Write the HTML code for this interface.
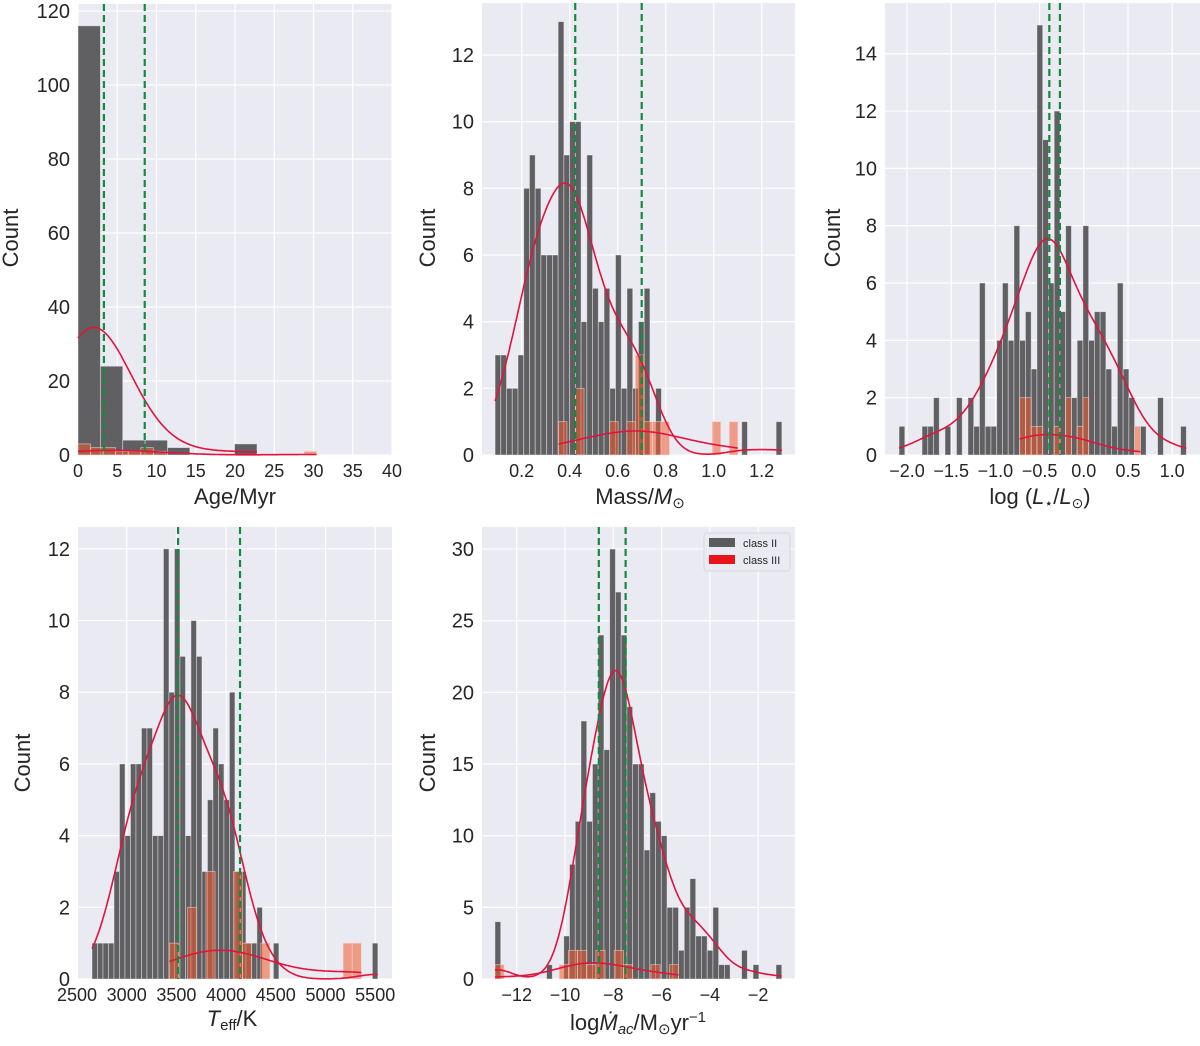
<!DOCTYPE html>
<html><head><meta charset="utf-8"><style>
body{margin:0;background:#fff}
svg text{font-family:"Liberation Sans",Arial,sans-serif;fill:#262626}
</style></head><body>
<svg id="fig" width="1200" height="1041" viewBox="0 0 1200 1041" xmlns="http://www.w3.org/2000/svg"></svg>
<script>
// ---- data (counts per bin) ----
const ageII=[116,24,4,4,2,0,0,3,0,0,0,0,0,0];
const ageIII=[3,2,2,1,1,2,1,0,0,0,0,0,0,0,0,0,0,0,1];
const massII=[3,3,2,2,3,8,9,8,6,6,6,13,9,10,10,4,9,5,4,5,2,6,2,5,2,4,5,0,2,0,0,0,0,0,0,0,0,0,0,0,0,0,0,1,0,0,0,0,0,1];
const massIII=[1,0,2,0,0,0,1,0,1,3,1,1,1,0,0,0,0,0,1,0,1];
const lumII=[1,0,0,0,1,1,2,0,1,0,2,0,2,1,6,1,1,4,6,4,8,4,5,3,15,11,6,12,5,8,2,4,8,4,5,5,3,1,6,3,2,0,1,0,0,2,0,0,0,1];
const lumIII=[2,2,1,1,0,0,1,0,2,0,1,2,0,0,0,0,0,0,0,0,1];
const teffII=[1,1,1,1,3,6,4,6,6,7,7,4,4,12,8,12,9,4,10,9,3,5,7,6,5,8,3,3,1,1,2,0,0,1,0,0,0,0,0,0,0,0,0,0,0,0,0,0,0,0,0,1];
const teffIII=[1,0,2,0,3,0,0,3,1,0,1,0,0,0,0,0,0,0,0,1,1];
const mdotII=[4,0,0,0,0,0,0,0,0,1,0,0,3,8,11,18,11,15,24,16,30,27,24,19,15,15,9,13,11,10,5,5,2,5,7,3,3,2,5,1,1,0,0,2,0,1,0,0,0,1];
const mdotIII=[1,0,0,0,0,0,0,1,2,2,1,2,0,2,1,0,0,1,0,1];
const ageMarkers=[3.3,8.5];
const massMarkers=[0.423,0.70];
const lumMarkers=[-0.39,-0.27];
const teffMarkers=[3517,4140];
const mdotMarkers=[-8.6,-7.49];
const ageTicks=[0,5,10,15,20,25,30,35,40];
const massTicks=[0.2,0.4,0.6,0.8,1.0,1.2];
const lumTicks=[-2.0,-1.5,-1.0,-0.5,0.0,0.5,1.0];
const teffTicks=[2500,3000,3500,4000,4500,5000,5500];
const mdotTicks=[-12,-10,-8,-6,-4,-2];
const ageYTicks=[0,20,40,60,80,100,120];
const massYTicks=[0,2,4,6,8,10,12];
const lumYTicks=[0,2,4,6,8,10,12,14];
const teffYTicks=[0,2,4,6,8,10,12];
const mdotYTicks=[0,5,10,15,20,25,30];

const NS="http://www.w3.org/2000/svg";
const svg=document.getElementById('fig');
function mk(tag,attrs,parent){const e=document.createElementNS(NS,tag);for(const k in attrs)e.setAttribute(k,attrs[k]);(parent||svg).appendChild(e);return e;}

const panels=[
 {id:'age',L:78,R:392,T:4,B:455,x0:0,x1:40,ymax:121.9,II:ageII,IIs:0,IIw:2.85,III:ageIII,IIIs:0,IIIw:1.6,bwII:4.6,bwIII:5,m:ageMarkers,xt:ageTicks,yt:ageYTicks,fmt:v=>String(v),ylx:10,yly:230},
 {id:'mass',L:482,R:795,T:3,B:455,x0:0.2-39.7/240,x1:0.2-39.7/240+313/240,ymax:13.56,II:massII,IIs:0.089,IIw:0.0239,III:massIII,IIIs:0.353,IIIw:0.0356,bwII:0.075,bwIII:0.17,m:massMarkers,xt:massTicks,yt:massYTicks,fmt:v=>v.toFixed(1),ylx:427,yly:230},
 {id:'lum',L:885,R:1200,T:3,B:455,x0:-2-22/88.4,x1:-2+293/88.4,ymax:15.77,II:lumII,IIs:-2.09,IIw:0.065,III:lumIII,IIIs:-2.09+21*0.065,IIIw:0.065,bwII:0.22,bwIII:0.3,m:lumMarkers,xt:lumTicks,yt:lumYTicks,fmt:v=>(v<0?'\u2212':'')+Math.abs(v).toFixed(1),ylx:832,yly:230},
 {id:'teff',L:78,R:392,T:527,B:979,x0:3000-48.7/0.0994,x1:3000+265.3/0.0994,ymax:12.61,II:teffII,IIs:2651,IIw:55.3,III:teffIII,IIIs:3429,IIIw:92,bwII:175,bwIII:420,m:teffMarkers,xt:teffTicks,yt:teffYTicks,fmt:v=>String(v),ylx:22,yly:755},
 {id:'mdot',L:482,R:795,T:527,B:979,x0:-12-34.7/24.15,x1:-12+278.3/24.15,ymax:31.54,II:mdotII,IIs:-12.9,IIw:0.2375,III:mdotIII,IIIs:-12.9,IIIw:0.38,bwII:0.6,bwIII:1.2,m:mdotMarkers,xt:mdotTicks,yt:mdotYTicks,fmt:v=>'\u2212'+Math.abs(v),ylx:427,yly:755}
];

function kde(counts,start,w,bw,xs){
  return xs.map(x=>{let s=0;counts.forEach((c,i)=>{if(c){const z=(x-(start+(i+0.5)*w))/bw;s+=c*Math.exp(-0.5*z*z);}});return s/(bw*Math.sqrt(2*Math.PI))*w;});
}

panels.forEach(p=>{
  const g=mk('g',{});
  
  
  const sx=v=>p.L+(v-p.x0)/(p.x1-p.x0)*(p.R-p.L);
  const sy=v=>p.B-v/p.ymax*(p.B-p.T);
  const bg=mk('rect',{x:p.L,y:p.T,width:p.R-p.L,height:p.B-p.T,fill:'#eaeaf2'},g);
  
  
  p.yt.forEach(t=>{
    const l=mk('line',{x1:p.L,x2:p.R,y1:sy(t),y2:sy(t),stroke:'#fff','stroke-width':1.2},g);
    
    
    const tx=mk('text',{x:p.L-8,y:sy(t)+7,'text-anchor':'end','font-size':20},g);
    tx.textContent=String(t);
    
    
  });
  p.xt.forEach(t=>{
    const l=mk('line',{x1:sx(t),x2:sx(t),y1:p.T,y2:p.B,stroke:'#fff','stroke-width':1.2},g);
    
    
    const tx=mk('text',{x:sx(t),y:p.B+22,'text-anchor':'middle','font-size':18},g);
    tx.textContent=p.fmt(t);
    
    
  });
  p.II.forEach((c,i)=>{ if(!c) return;
    const x=sx(p.IIs+i*p.IIw), x2=sx(p.IIs+(i+1)*p.IIw);
    const r=mk('rect',{x:x,y:sy(c),width:x2-x,height:sy(0)-sy(c),fill:'#5b5a5d','fill-opacity':0.97,stroke:'#f4f4f8','stroke-opacity':0.55,'stroke-width':0.8},g);
    
    
  });
  p.III.forEach((c,i)=>{ if(!c) return;
    const x=sx(p.IIIs+i*p.IIIw), x2=sx(p.IIIs+(i+1)*p.IIIw);
    const r=mk('rect',{x:x,y:sy(c),width:x2-x,height:sy(0)-sy(c),fill:'#f05a32','fill-opacity':0.55,stroke:'#fbe0d8','stroke-opacity':0.6,'stroke-width':0.8},g);
    
    
  });
  [[p.II,p.IIs,p.IIw,p.bwII,'ii'],[p.III,p.IIIs,p.IIIw,p.bwIII,'iii']].forEach(([arr,s,w,bw,nm])=>{
    let a=-1,b=-1;arr.forEach((c,i)=>{if(c){if(a<0)a=i;b=i;}});
    const lo=s+a*w, hi=s+(b+1)*w; const xs=[];
    for(let k=0;k<=200;k++)xs.push(lo+(hi-lo)*k/200);
    const ys=kde(arr,s,w,bw,xs);
    const d=xs.map((x,k)=>(k?'L':'M')+sx(x).toFixed(1)+','+sy(ys[k]).toFixed(1)).join('');
    const pa=mk('path',{d:d,fill:'none',stroke:'#e0143c','stroke-width':1.6},g);
    
    
  });
  p.m.forEach(v=>{
    const l=mk('line',{x1:sx(v),x2:sx(v),y1:p.T,y2:p.B,stroke:'#138a3c','stroke-width':2.2,'stroke-dasharray':'7,4'},g);
    
    
  });
  const yl=mk('text',{x:p.ylx,y:p.yly,'font-size':22,'text-anchor':'middle',transform:'rotate(-90 '+(p.ylx+8)+' '+p.yly+')'},g);
  yl.textContent='Count';
  
  
});
</script>
<div style="position:absolute;left:0;top:0;width:1200px;height:1041px;pointer-events:none">
<svg width="1200" height="1041" style="position:absolute;left:0;top:0">
<g font-family="Liberation Sans, Arial, sans-serif" font-size="22" fill="#262626">
<text x="235" y="504" text-anchor="middle">Age/Myr</text>
<text x="640" y="504" text-anchor="middle">Mass/<tspan font-style="italic">M</tspan><tspan font-size="15" dy="4">⊙</tspan></text>
<text x="1040" y="504" text-anchor="middle">log (<tspan font-style="italic">L</tspan><tspan font-size="14" dy="4">⋆</tspan><tspan dy="-4">/</tspan><tspan font-style="italic">L</tspan><tspan font-size="14" dy="4">⊙</tspan><tspan dy="-4">)</tspan></text>
<text x="232" y="1026" text-anchor="middle"><tspan font-style="italic">T</tspan><tspan font-size="15" dy="4">eff</tspan><tspan dy="-4">/K</tspan></text>
<text x="638" y="1030" text-anchor="middle">log<tspan font-style="italic">Ṁ</tspan><tspan font-size="15" font-style="italic" dy="4">ac</tspan><tspan dy="-4">/M</tspan><tspan font-size="15" dy="4">⊙</tspan><tspan dy="-4">yr</tspan><tspan font-size="15" dy="-8">−1</tspan></text>
</g>
<g>
<rect x="704" y="533" width="86" height="38" rx="3" fill="#eaeaf2" stroke="#d8d8e0" stroke-width="1"/>
<rect x="709" y="538" width="26" height="9" fill="#5b5a5d"/>
<text x="743" y="547" font-family="Liberation Sans, Arial, sans-serif" font-size="11" fill="#333">class II</text>
<rect x="709" y="555" width="26" height="9" fill="#e8141c"/>
<text x="743" y="564" font-family="Liberation Sans, Arial, sans-serif" font-size="11" fill="#333">class III</text>
</g>
</svg>
</div>
</body></html>
